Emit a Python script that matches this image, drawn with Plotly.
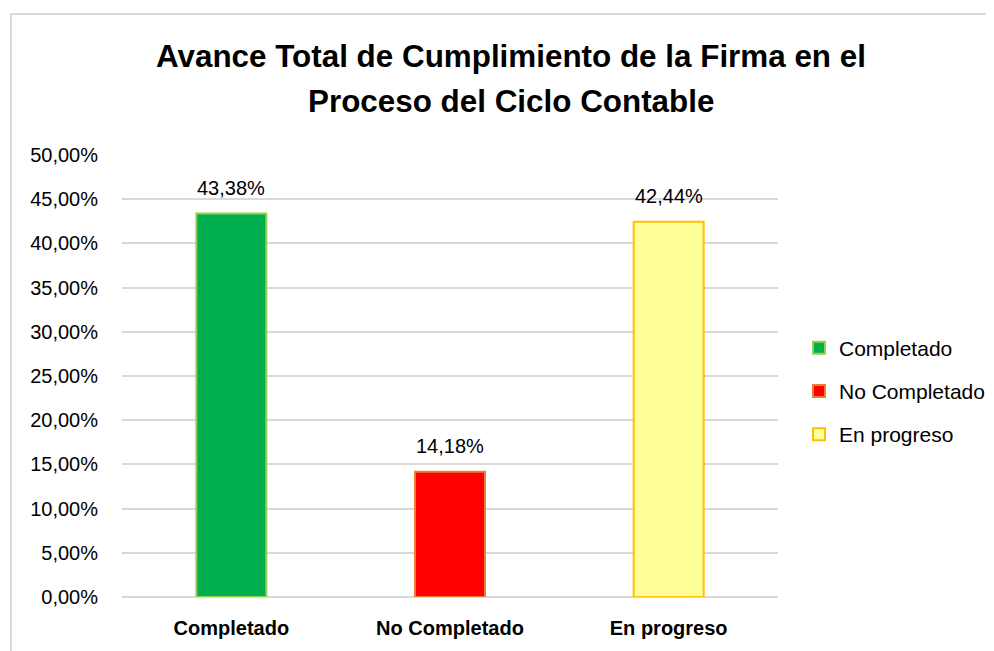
import plotly.graph_objects as go

categories = ["Completado", "No Completado", "En progreso"]
values = [0.4338, 0.1418, 0.4244]
fill_colors = ["#00B050", "#FF0000", "#FFFF99"]
line_colors = ["#92D050", "#ED7D31", "#FFC000"]
y_ticks = [0.0, 0.05, 0.10, 0.15, 0.20, 0.25, 0.30, 0.35, 0.40, 0.45, 0.50]
title_lines = ["Avance Total de Cumplimiento de la Firma en el", "Proceso del Ciclo Contable"]

FONT = "Liberation Sans"
W, H = 994, 651
L, R, T, B = 114, 224, 147, 62
pw, ph = W - L - R, H - T - B

fig = go.Figure()
for i, (cat, val) in enumerate(zip(categories, values)):
    fig.add_trace(go.Bar(
        x=[cat], y=[val], name=cat,
        marker=dict(color=fill_colors[i], line=dict(color=line_colors[i], width=2)),
        width=0.32,
        legendgroup=cat,
    ))

annotations = []
for cat, val in zip(categories, values):
    annotations.append(dict(
        x=cat, y=val, xref="x", yref="y",
        text=f"{val * 100:.2f}%".replace(".", ","),
        showarrow=False, yanchor="middle", yshift=26,
        font=dict(family=FONT, size=20, color="#000000"),
    ))
for j, (line, ypx) in enumerate(zip(title_lines, [49, 93])):
    annotations.append(dict(
        x=(503 - L) / pw, y=(H - B - ypx) / ph, xref="paper", yref="paper",
        text=f"<b>{line}</b>", showarrow=False,
        xanchor="center", yanchor="middle",
        font=dict(family=FONT, size=31.4, color="#000000"),
    ))

fig.update_layout(
    width=W, height=H,
    margin=dict(l=L, r=R, t=T, b=B, autoexpand=False),
    paper_bgcolor="white", plot_bgcolor="white",
    barmode="overlay",
    separators=",.",
    font=dict(family=FONT, color="#000000"),
    showlegend=True,
    legend=dict(
        xref="container", yref="container",
        x=791 / W, xanchor="left",
        y=(H - 383) / H, yanchor="middle",
        font=dict(family=FONT, size=21, color="#000000"),
        tracegroupgap=13,
        bgcolor="rgba(0,0,0,0)",
    ),
    xaxis=dict(
        categoryorder="array", categoryarray=categories,
        tickfont=dict(family=FONT, size=20, color="#000000", weight="bold"),
        showgrid=False, showline=False, ticks="",
        ticklabelstandoff=17,
    ),
    yaxis=dict(
        range=[0, 0.5], tickvals=y_ticks, tickformat=".2%",
        tickfont=dict(family=FONT, size=20, color="#000000"),
        showgrid=True, gridcolor="#D9D9D9", gridwidth=1.5,
        zeroline=True, zerolinecolor="#D9D9D9", zerolinewidth=1.5,
        showline=False, ticks="",
        ticklabelstandoff=23,
    ),
    annotations=annotations,
    shapes=[dict(
        type="rect", xref="paper", yref="paper",
        x0=(3 - L) / pw, x1=(W + 20 - L) / pw,
        y0=-(B + 20) / ph, y1=1 + (T - 6) / ph,
        line=dict(color="#D9D9D9", width=2), fillcolor="rgba(0,0,0,0)",
        layer="below",
    )],
)

fig.write_html("out.html")
